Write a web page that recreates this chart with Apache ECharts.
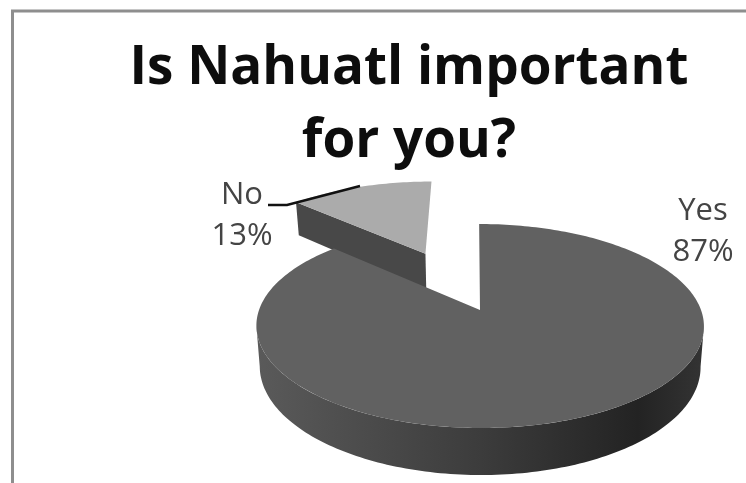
<!DOCTYPE html>
<html>
<head>
<meta charset="utf-8">
<style>html,body{margin:0;padding:0;background:#fff}#chart{width:746px;height:483px}</style>
<script src="https://cdn.jsdelivr.net/npm/echarts@6/dist/echarts.min.js"></script>
</head>
<body>
<div id="chart"></div>
<script>
// Survey answers
const categories = ['Yes', 'No'];
const shares = [87, 13];
const titleText = 'Is Nahuatl important\nfor you?';

// Tilted-disc projection of the pie
const disc = { cx: 480, cy: 310, rx: 221, ry: 99.5, persp: 0.157, skew: 1, depth: 39.6, taper: 0.985 };
const explodeBySlice = [0, 0.675];
const labelAnchor = [[703, 232], [242, 216]];
const topColors = ['#616161', '#ababab'];

const total = shares.reduce((a, b) => a + b, 0);

function project(u, v, lower) {
  const w = 1 / (1 - disc.persp * v);
  let x = disc.rx * u * w + disc.skew * v * w;
  let y = disc.cy + disc.ry * v * w;
  if (lower) { x *= disc.taper; y += disc.depth * w; }
  return [disc.cx + x, y];
}

function arcPoints(a0, a1, ou, ov, lower) {
  const pts = [];
  const n = Math.max(2, Math.ceil(Math.abs(a1 - a0) / 0.02));
  for (let i = 0; i <= n; i++) {
    const t = a0 + (a1 - a0) * i / n;
    pts.push(project(ou + Math.sin(t), ov - Math.cos(t), lower));
  }
  return pts;
}

function renderSlice(params, api) {
  const i = params.dataIndex;
  const before = shares.slice(0, i).reduce((a, b) => a + b, 0);
  const a0 = before / total * 2 * Math.PI;
  const a1 = (before + api.value(0)) / total * 2 * Math.PI;
  const mid = (a0 + a1) / 2;
  const ou = Math.sin(mid) * explodeBySlice[i];
  const ov = -Math.cos(mid) * explodeBySlice[i];
  const z = i === 0 ? 10 : 0;
  const children = [];

  if (i === 0) {
    // Outer wall: only the arc between the two silhouette points faces the viewer
    const edge = Math.acos(-disc.persp);
    const wallStart = Math.max(a0, edge);
    const wallEnd = Math.min(a1, 2 * Math.PI - edge);
    const upper = arcPoints(wallStart, wallEnd, ou, ov, false);
    const low = arcPoints(wallStart, wallEnd, ou, ov, true).reverse();
    children.push({
      type: 'polygon', z2: z,
      shape: { points: upper.concat(low) },
      style: {
        fill: new echarts.graphic.LinearGradient(257, 0, 705, 0, [
          { offset: 0, color: '#5a5a5a' },
          { offset: 0.5, color: '#3c3c3c' },
          { offset: 0.85, color: '#232323' },
          { offset: 1, color: '#343434' }
        ], true)
      }
    });
  } else {
    // Cut face towards the viewer
    const apex = project(ou, ov, false);
    const apexLow = project(ou, ov, true);
    const rimPt = project(ou + Math.sin(a0), ov - Math.cos(a0), false);
    const rimLow = project(ou + Math.sin(a0), ov - Math.cos(a0), true);
    children.push({
      type: 'polygon', z2: z,
      shape: { points: [apex, rimPt, rimLow, apexLow] },
      style: { fill: '#484848' }
    });
  }

  // Top face
  children.push({
    type: 'polygon', z2: z + 1,
    shape: { points: [project(ou, ov, false)].concat(arcPoints(a0, a1, ou, ov, false)) },
    style: { fill: topColors[i] }
  });

  // Category and percentage label
  children.push({
    type: 'text', z2: 20,
    x: labelAnchor[i][0], y: labelAnchor[i][1],
    style: {
      text: categories[i] + '\n' + Math.round(api.value(0) / total * 100) + '%',
      font: '31px "Open Sans"', fill: '#444444',
      align: 'center', verticalAlign: 'middle', lineHeight: 41
    }
  });

  if (i === 1) {
    children.push({
      type: 'polyline', z2: 21,
      shape: { points: [[268, 205], [287, 205], [360, 186]] },
      style: { stroke: '#111111', lineWidth: 2.4, fill: 'none' }
    });
  }
  return { type: 'group', children };
}

const chart = echarts.init(document.getElementById('chart'));
chart.setOption({
  animation: false,
  backgroundColor: '#ffffff',
  title: {
    text: titleText,
    left: 404, top: 27, textAlign: 'center',
    textStyle: { fontFamily: 'Open Sans', fontWeight: 'bold', fontSize: 53, lineHeight: 73, color: '#0d0d0d' }
  },
  graphic: [
    { type: 'polyline', shape: { points: [[12.5, 483], [12.5, 11], [746, 11]] },
      style: { stroke: '#8e8e8e', lineWidth: 3, fill: 'none' } }
  ],
  series: [{
    type: 'custom',
    coordinateSystem: 'none',
    renderItem: renderSlice,
    data: shares.map((v, i) => ({ name: categories[i], value: [v] }))
  }]
});
</script>
</body>
</html>
